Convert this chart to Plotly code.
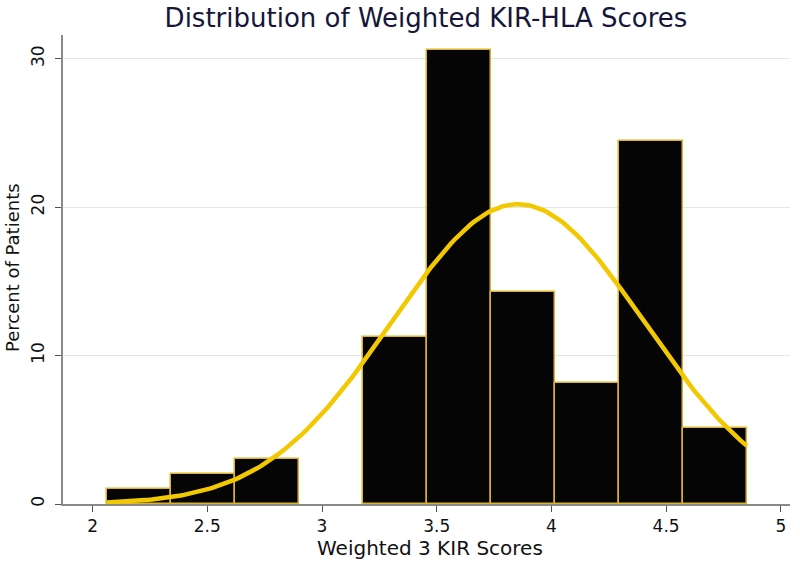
import numpy as np
import plotly.graph_objects as go

# Histogram bins (left edges) and percent of patients
bin_left = [2.062, 2.341, 2.620, 3.178, 3.457, 3.736, 4.015, 4.294, 4.573]
bin_width = 0.279
percent = [1.02, 2.04, 3.06, 11.22, 30.61, 14.29, 8.16, 24.49, 5.10]

# Fitted normal curve parameters
norm_mean = 3.854
norm_sd = 0.551
curve_start = 2.062
curve_end = 4.852

x_ticks = [2, 2.5, 3, 3.5, 4, 4.5, 5]
x_ticklabels = ["2", "2.5", "3", "3.5", "4", "4.5", "5"]
y_ticks = [0, 10, 20, 30]

fig = go.Figure()
fig.add_trace(go.Bar(
    x=bin_left, y=percent, width=bin_width, offset=0,
    marker=dict(color="#050505", line=dict(color="#D9B42A", width=1.5)),
    hoverinfo="skip", showlegend=False,
))

xs = np.linspace(curve_start, curve_end, 200)
ys = 100 * bin_width * np.exp(-0.5 * ((xs - norm_mean) / norm_sd) ** 2) / (norm_sd * np.sqrt(2 * np.pi))
fig.add_trace(go.Scatter(
    x=xs, y=ys, mode="lines",
    line=dict(color="#F2C800", width=4.5),
    hoverinfo="skip", showlegend=False,
))

font_family = "DejaVu Sans, Liberation Sans, Arial, sans-serif"
fig.update_layout(
    width=800, height=566,
    margin=dict(l=63, r=10, t=35, b=62, autoexpand=False),
    paper_bgcolor="white", plot_bgcolor="white",
    bargap=0,
    title=dict(text="Distribution of Weighted KIR-HLA Scores", x=426 / 800, xanchor="center",
               xref="container", y=1 - 18 / 566, yanchor="middle", yref="container",
               font=dict(family=font_family, size=26, color="#16163a")),
    font=dict(family=font_family, color="#111111"),
    xaxis=dict(
        range=[1.871, 5.04], tickvals=x_ticks, ticktext=x_ticklabels,
        showgrid=False, zeroline=False, showline=True, linecolor="#8a8a8a", linewidth=1.5,
        ticks="outside", ticklen=6, tickcolor="#555555", automargin=False,
        tickfont=dict(size=17, color="#111111"),
    ),
    yaxis=dict(
        range=[0, 31.6], tickvals=y_ticks, tickangle=-90,
        showgrid=True, gridcolor="#e6e6e6", gridwidth=1, zeroline=False,
        showline=True, linecolor="#8a8a8a", linewidth=1.5,
        ticks="outside", ticklen=6, tickcolor="#555555", automargin=False,
        ticklabelstandoff=4,
        tickfont=dict(size=17, color="#111111"),
    ),
    annotations=[
        dict(text="Weighted 3 KIR Scores", xref="paper", yref="paper",
             x=(430 - 63) / 727, y=-(548 - 504) / 469, xanchor="center", yanchor="middle",
             showarrow=False, font=dict(size=20, color="#111111", family=font_family)),
        dict(text="Percent of Patients", xref="paper", yref="paper", textangle=-90,
             x=-(63 - 12) / 727, y=(504 - 268) / 469, xanchor="center", yanchor="middle",
             showarrow=False, font=dict(size=18, color="#111111", family=font_family)),
    ],
)

fig.write_html("out.html", config={"displayModeBar": False},
               post_script="document.body.style.margin='0';document.body.style.overflow='hidden';")
